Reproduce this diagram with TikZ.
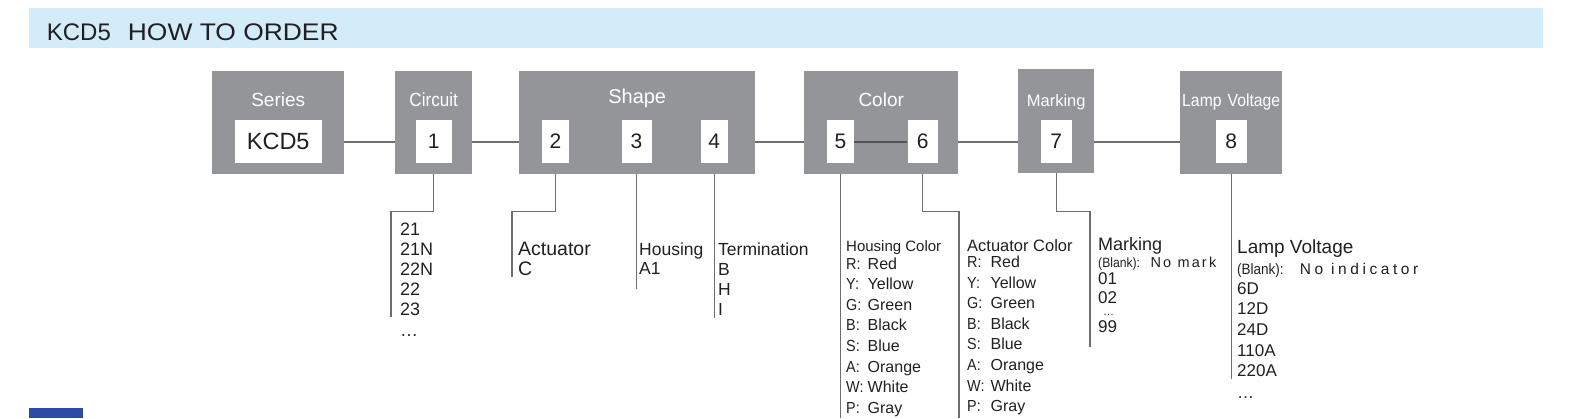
\documentclass[tikz,border=0pt]{standalone}
\usepackage{fontspec}
\setmainfont{Liberation Sans}
\newfontfamily\headfont[FakeStretch=1.1]{Liberation Sans}
\newfontfamily\narrowfont[FakeStretch=0.9]{Liberation Sans}
\newfontfamily\markfont[LetterSpace=15]{Liberation Sans}
\newfontfamily\lampfont[LetterSpace=23]{Liberation Sans}

\definecolor{headblue}{HTML}{D3ECF9}
\definecolor{boxgray}{HTML}{939598}
\definecolor{linegray}{HTML}{6D6E71}
\definecolor{textdark}{HTML}{231F20}
\definecolor{markblue}{HTML}{2B4BA5}

\newcommand{\pxsize}[2]{\fontsize{#1}{#2}\selectfont}
\newcommand{\colkey}[2][21.5pt]{\makebox[#1][l]{\narrowfont #2}}
\newcommand{\optlines}[1]{\begin{tabular}[t]{@{}l@{}}#1\end{tabular}}

\tikzset{
	graybox/.style={fill=boxgray, anchor=north west, inner sep=0, minimum height=103, minimum width=#1},
	boxtitle/.style={anchor=base, inner sep=0, text=white},
	digitbox/.style={fill=white, inner sep=0, minimum height=43, minimum width=#1, text=textdark},
	link/.style={draw=linegray, line width=2},
	drop/.style={draw=linegray, line width=1.3},
	optlist/.style={anchor=base west, inner sep=0, text=textdark},
}

\begin{document}
\begin{tikzpicture}[x=1pt,y=-1pt]
	\useasboundingbox (0,0) rectangle (1580,418);
	\fill[headblue] (29,8) rectangle (1543,48);
	\node[anchor=base west, inner sep=0, text=textdark] (head) at (46.7,40) {\pxsize{24}{24}KCD5\hspace{17pt}\headfont HOW TO ORDER};

	\node[graybox=132] (series) at (212,71) {};
	\node[graybox=77] (circuit) at (395,71) {};
	\node[graybox=236] (shape) at (519,71) {};
	\node[graybox=154] (color) at (804,71) {};
	\node[graybox=76, minimum height=104] (marking) at (1018,69) {};
	\node[graybox=102] (lamp) at (1180,71) {};

	\node[boxtitle, font=\pxsize{19}{19}] (series-t) at (series.north |- 0,106) {Series};
	\node[boxtitle, font=\narrowfont\pxsize{19}{19}] (circuit-t) at (circuit.north |- 0,106.5) {Circuit};
	\node[boxtitle, font=\pxsize{20}{20}] (shape-t) at (shape.north |- 0,103.5) {Shape};
	\node[boxtitle, font=\pxsize{19}{19}] (color-t) at (color.north |- 0,106.5) {Color};
	\node[boxtitle, font=\pxsize{16.5}{16.5}] (marking-t) at (marking.north |- 0,106) {Marking};
	\node[boxtitle, font=\narrowfont\pxsize{17.5}{17.5}] (lamp-t) at (lamp.north |- 0,106.5) {Lamp\hspace{6pt}Voltage};

	\node[digitbox=87, font=\pxsize{23.5}{23.5}] (kcd) at (series.center |- 0,141.5) {KCD5};
	\node[digitbox=36, font=\pxsize{21}{21}] (one) at (circuit.center |- 0,141.5) {1};
	\node[digitbox=27, font=\pxsize{21}{21}] (two) at (555.4,141.5) {2};
	\node[digitbox=30, font=\pxsize{21}{21}] (three) at (636.5,141.5) {3};
	\node[digitbox=27.5, font=\pxsize{21}{21}] (four) at (714.3,141.5) {4};
	\node[digitbox=27, font=\pxsize{21}{21}] (five) at (840.5,141.5) {5};
	\node[digitbox=30, font=\pxsize{21}{21}] (six) at (922.6,141.5) {6};
	\node[digitbox=31, font=\pxsize{21}{21}] (seven) at (marking.center |- 0,141.5) {7};
	\node[digitbox=31, font=\pxsize{21}{21}] (eight) at (lamp.center |- 0,141.5) {8};

	\draw[link] (series.east |- kcd) -- (circuit.west |- one);
	\draw[link] (circuit.east |- one) -- (shape.west |- two);
	\draw[link] (shape.east |- four) -- (color.west |- five);
	\draw[link, draw=linegray!75!black] (five) -- (six);
	\draw[link] (color.east |- six) -- (marking.west |- seven);
	\draw[link] (marking.east |- seven) -- (lamp.west |- eight);

	\coordinate (circ-end) at (391,317);
	\coordinate (act-end) at (512,277);
	\coordinate (actc-end) at (959,418);
	\coordinate (mark-end) at (1090,347);
	\draw[drop] (one |- circuit.south) -- ++(0,37) -| (circ-end);
	\draw[drop] (two |- shape.south) -- ++(0,37) -| (act-end);
	\draw[drop] (three |- shape.south) -- ++(0,115);
	\draw[drop] (four |- shape.south) -- ++(0,144);
	\draw[drop] (five |- color.south) -- ++(0,244);
	\draw[drop] (six |- color.south) -- ++(0,37) -| (actc-end);
	\draw[drop] (seven |- marking.south) -- ++(0,38) -| (mark-end);
	\draw[drop] (eight |- lamp.south) -- ++(0,205);

	\node[optlist, font=\pxsize{18}{20.2}] (circ-list) at (400,235) {\optlines{21\\21N\\22N\\22\\23\\[0.8pt]\ldots}};
	\node[optlist, font=\pxsize{19.5}{20}] (act-list) at (518,255) {\optlines{Actuator\\C}};
	\node[optlist, font=\pxsize{17.5}{19.5}] (hous-list) at (639,255) {\optlines{Housing\\A1}};
	\node[optlist, font=\pxsize{17.5}{20}] (term-list) at (718,255) {\optlines{Termination\\B\\H\\I}};

	\node[optlist, font=\pxsize{15}{15}] (hc-title) at (846,251.7) {Housing Color};
	\node[optlist, font=\pxsize{16}{20.6}] (hc-list) at (846,269) {\optlines{\colkey{R:}Red\\\colkey{Y:}Yellow\\\colkey{G:}Green\\\colkey{B:}Black\\\colkey{S:}Blue\\\colkey{A:}Orange\\\colkey{W:}White\\\colkey{P:}Gray}};
	\node[optlist, font=\pxsize{16.5}{16.5}] (ac-title) at (967,251.7) {Actuator Color};
	\node[optlist, font=\pxsize{16}{20.6}] (ac-list) at (967,267.5) {\optlines{\colkey[23.4pt]{R:}Red\\\colkey[23.4pt]{Y:}Yellow\\\colkey[23.4pt]{G:}Green\\\colkey[23.4pt]{B:}Black\\\colkey[23.4pt]{S:}Blue\\\colkey[23.4pt]{A:}Orange\\\colkey[23.4pt]{W:}White\\\colkey[23.4pt]{P:}Gray}};

	\node[optlist, font=\pxsize{18}{18}] (mark-title) at (1098,250.7) {Marking};
	\node[optlist] (mark-blank) at (1098,267.3) {\makebox[52.4pt][l]{\narrowfont\pxsize{13.5}{13.5}(Blank):}{\markfont\pxsize{14.5}{14.5}No mark}};
	\node[optlist, font=\pxsize{17}{18.7}] (mark-list) at (1098,284.5) {\optlines{01\\02}};
	\node[optlist, font=\pxsize{11}{11}] (mark-dots) at (1103,315.5) {\ldots};
	\node[optlist, font=\pxsize{17}{17}] (mark-99) at (1098,332.5) {99};

	\node[optlist, font=\pxsize{19}{19}] (lamp-title) at (1237,253.3) {Lamp Voltage};
	\node[optlist] (lamp-blank) at (1237,274) {\makebox[62.7pt][l]{\narrowfont\pxsize{15}{15}(Blank):}{\lampfont\pxsize{15.5}{15.5}No indicator}};
	\node[optlist, font=\pxsize{17}{20.7}] (lamp-list) at (1237,294) {\optlines{6D\\12D\\24D\\110A\\220A\\[1pt]\ldots}};

	\fill[markblue] (29,408) rectangle (83,418);
\end{tikzpicture}
\end{document}
